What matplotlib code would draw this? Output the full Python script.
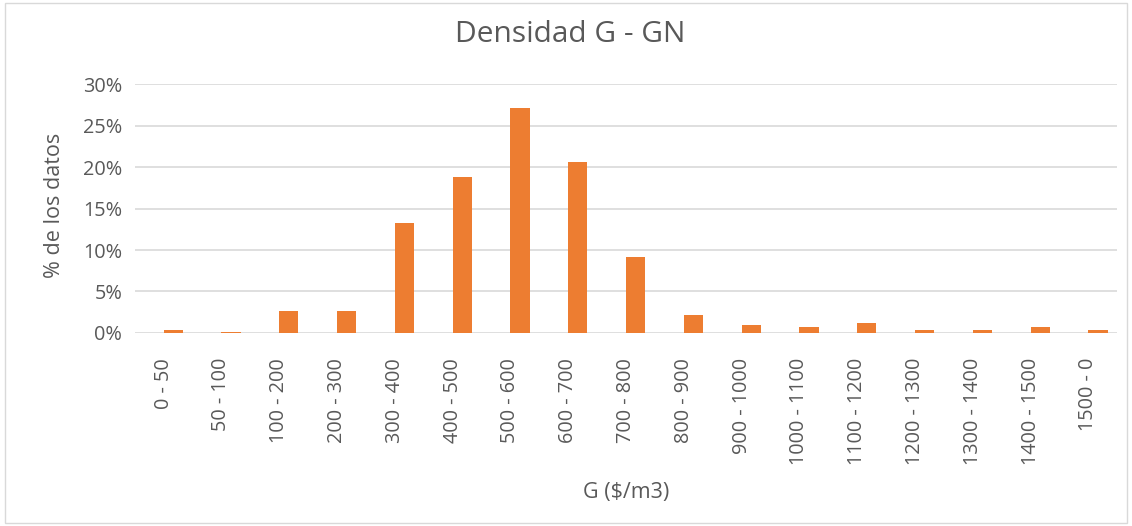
import matplotlib.pyplot as plt
import numpy as np
from matplotlib.ticker import PercentFormatter

categorias = ["0 - 50", "50 - 100", "100 - 200", "200 - 300", "300 - 400", "400 - 500",
              "500 - 600", "600 - 700", "700 - 800", "800 - 900", "900 - 1000",
              "1000 - 1100", "1100 - 1200", "1200 - 1300", "1300 - 1400",
              "1400 - 1500", "1500 - 0"]
porcentajes = [0.3, 0.1, 2.65, 2.6, 13.2, 18.8, 27.1, 20.6, 9.2, 2.2, 1.0,
               0.75, 1.2, 0.35, 0.3, 0.7, 0.3]
yticks = [0, 5, 10, 15, 20, 25, 30]

plt.rcParams['font.family'] = ['Open Sans', 'DejaVu Sans']
gris = '#595959'

fig = plt.figure(figsize=(11.32, 5.26), dpi=100)
ax = fig.add_axes([0.119, 0.367, 0.868, 0.473])

x = np.arange(len(categorias))
# en el original las barras quedan corridas a la derecha de cada categoría
ax.bar(x + 0.166, porcentajes, width=0.33, color='#ED7D31', zorder=3)

ax.set_xlim(-0.5, len(categorias) - 0.5)
ax.set_ylim(0, 30)
ax.set_yticks(yticks)
ax.yaxis.set_major_formatter(PercentFormatter(decimals=0))
ax.grid(axis='y', color='#D9D9D9', linewidth=1.2, zorder=0)
for s in ax.spines.values():
    s.set_visible(False)

ax.set_xticks(x)
ax.set_xticklabels(categorias, rotation=90, va='top', ha='center')
ax.tick_params(axis='both', length=0, colors=gris, labelsize=14.3)
ax.tick_params(axis='x', pad=18)
ax.tick_params(axis='y', pad=9)

fig.text(0.504, 0.935, "Densidad G - GN", fontsize=21.5, color=gris, ha='center', va='center')
ax.set_ylabel("% de los datos", fontsize=15.5, color=gris, va='center')
ax.yaxis.set_label_coords(-0.0815, 0.514)
ax.set_xlabel("G ($/m3)", fontsize=15.5, color=gris, va='center')
ax.xaxis.set_label_coords(0.5, -0.643)

fig.patches.append(plt.Rectangle((0.004, 0.006), 0.992, 0.988, transform=fig.transFigure,
                                 fill=False, edgecolor='#D9D9D9', linewidth=1))

fig.savefig("out.png", dpi=100)
